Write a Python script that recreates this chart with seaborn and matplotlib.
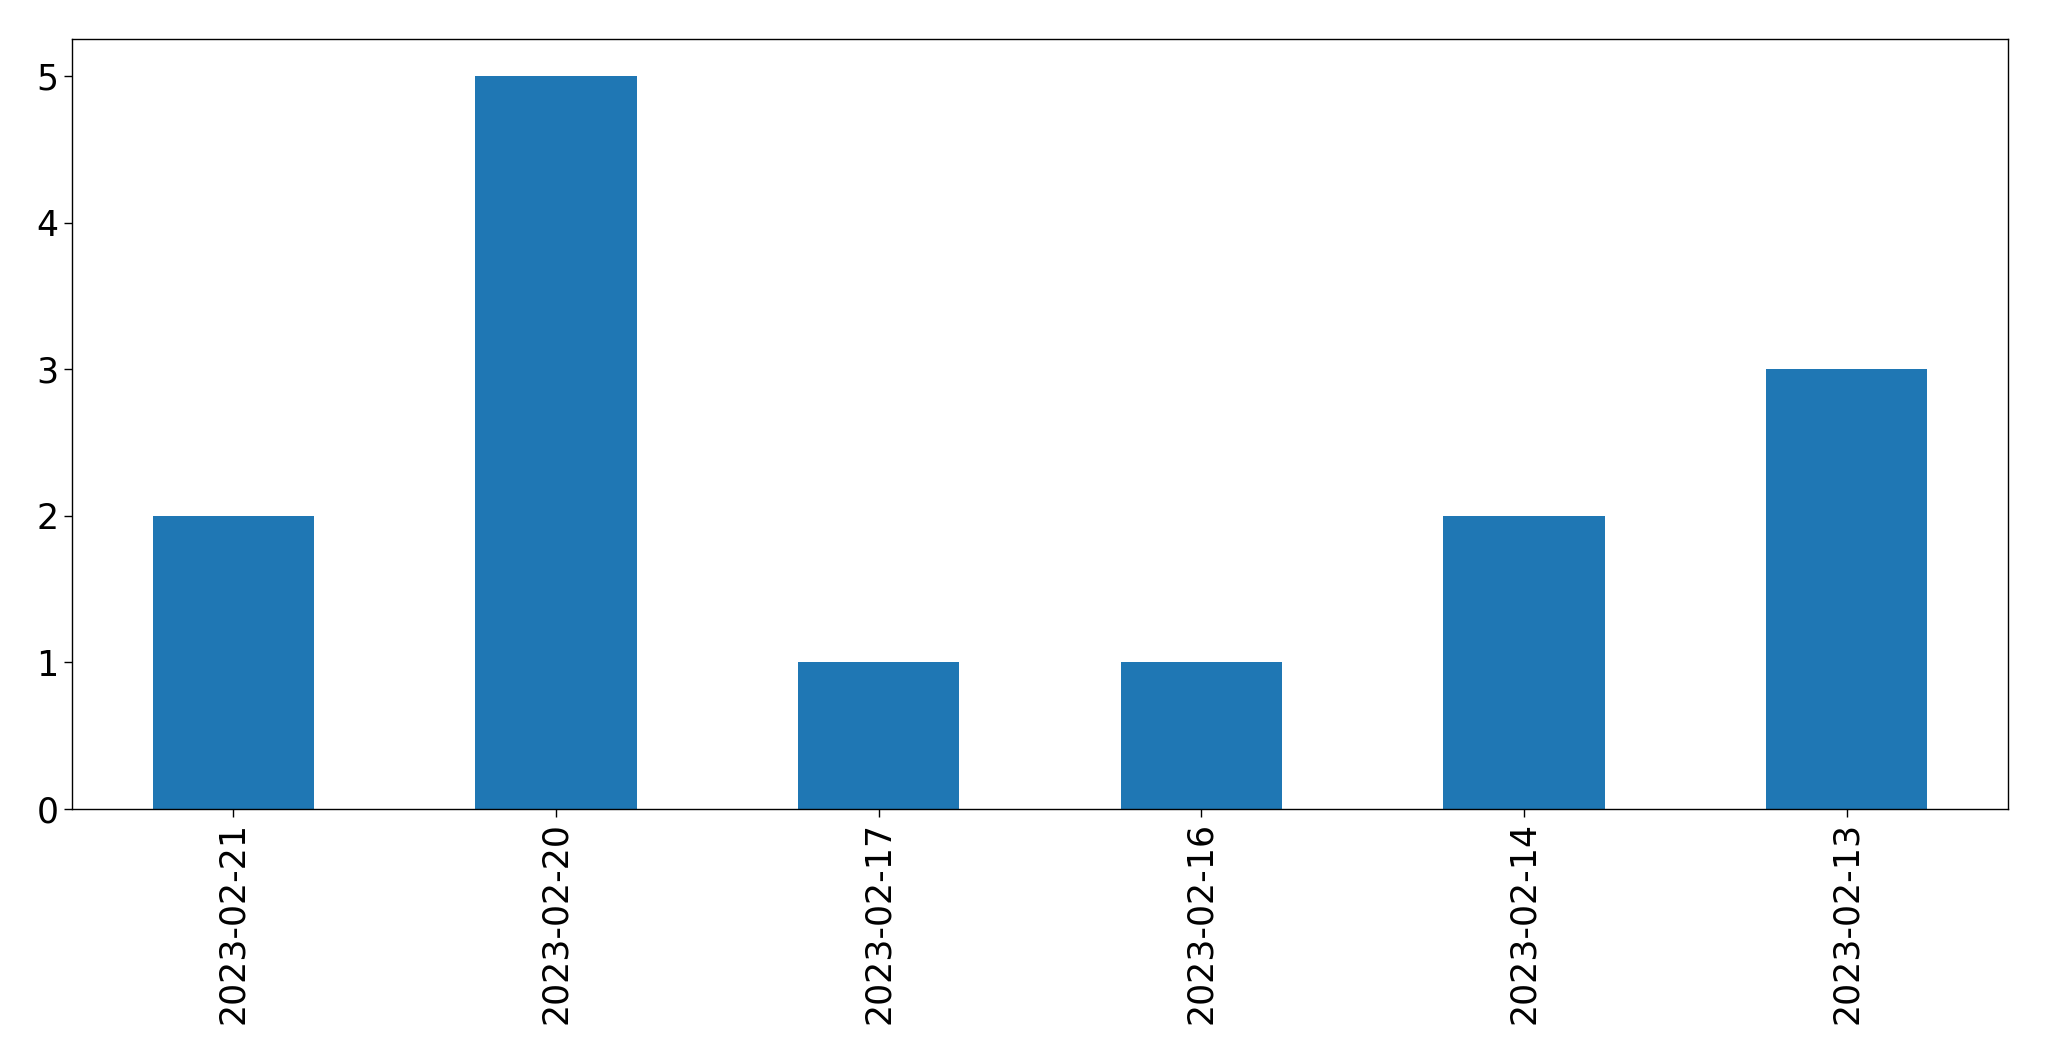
import pandas as pd
import seaborn as sns
from matplotlib import pyplot as plt

dates = ["2023-02-21", "2023-02-20", "2023-02-17", "2023-02-16", "2023-02-14", "2023-02-13"]
counts = [2, 5, 1, 1, 2, 3]

df = pd.DataFrame({"date": dates, "count": counts})

sns.set_style("ticks")
plt.rcParams['font.family'] = ['DejaVu Sans']

fig = plt.figure(figsize=(20.49, 10.61), dpi=100)
ax = fig.add_axes([0.0351, 0.2375, 0.9449, 0.7255])

sns.barplot(data=df, x="date", y="count", color="#1f77b4", saturation=1,
            width=0.5, linewidth=0, ax=ax)

ax.set_xlim(-0.5, len(dates) - 0.5)
ax.set_ylim(0, 5.25)
ax.set_xlabel("")
ax.set_ylabel("")
for side in ["top", "right", "left", "bottom"]:
    ax.spines[side].set_visible(True)
    ax.spines[side].set_color("black")
    ax.spines[side].set_linewidth(1.0)
ax.tick_params(axis="both", labelsize=25, length=6, width=1, colors="black")
plt.setp(ax.get_xticklabels(), rotation=90)

fig.savefig("out.png", dpi=100)
